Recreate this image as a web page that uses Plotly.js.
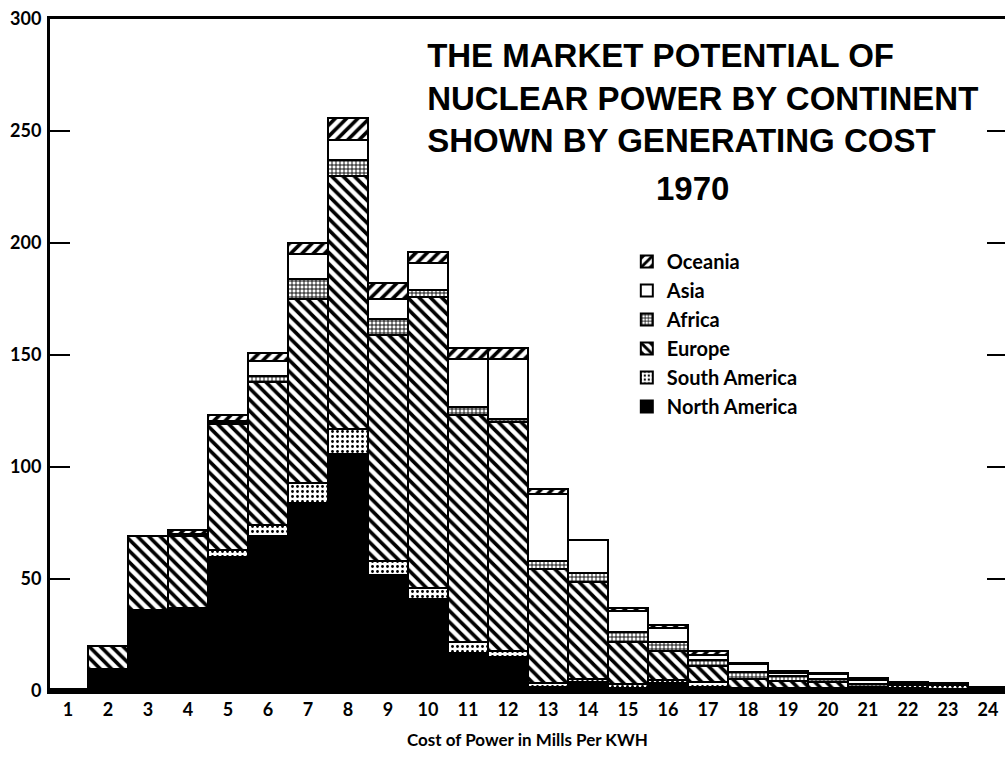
<!DOCTYPE html>
<html>
<head>
<meta charset="utf-8">
<script src="https://cdn.plot.ly/plotly-3.0.1.min.js"></script>
<style>html,body{margin:0;padding:0;background:#fff;overflow:hidden}</style>
</head>
<body>
<div id="chart" style="width:1005px;height:757px"></div>
<script>
// Cost of power (mills per KWH) categories
const costMills = [1,2,3,4,5,6,7,8,9,10,11,12,13,14,15,16,17,18,19,20,21,22,23,24];
const tickLabels = ['1','2','3','4','5','6','7','8','9','10','11','12','13','14','15','16','17','18','19','20','21','22','23','24'];
const yTicks = [0,50,100,150,200,250,300];

// Market potential by continent (stacked)
const northAmerica = [1,10,36,37,60,69,84,106,52,41,17,15,2,4,1.5,3.5,2,0.5,0.5,0.5,1,1.5,1,2];
const southAmerica = [0,0,0,0,3,5,9,11,6,5,5,3,1.5,1.5,1.5,1.5,2,1,1,1,0.5,1,1.5,0];
const europe       = [0,10,33,32,56,64,82,113,101,130,101,102,51,43,19,13,7,4,3,2.5,0.5,0,0.5,0];
const africa       = [0,0,0,1,0.5,2.5,9,7,7,3,4,1.5,3.5,4,4.5,4,3,3,2,1.5,1,0,0,0];
const asia         = [0,0,0,0,1,7,11,9,9,12,21,26.5,30,15,9,6,2,3.5,1.5,2,2,1,0,0];
const oceania      = [0,0,0,2,2.5,3.5,5,10,7,5,5,5,2,0,1.5,1.5,2,0.5,1,0.7,1,0.5,0.7,0];

const seriesNames = ['North America','South America','Europe','Africa','Asia','Oceania'];
const seriesValues = [northAmerica, southAmerica, europe, africa, asia, oceania];

const styles = {
  'North America': {color:'#000000'},
  'South America': {color:'#ffffff', pattern:{shape:'.', fgcolor:'#000', bgcolor:'#fff', size:5, solidity:0.25}},
  'Europe':        {color:'#ffffff', pattern:{shape:'\\', fgcolor:'#000', bgcolor:'#fff', size:8, solidity:0.45}},
  'Africa':        {color:'#ffffff', pattern:{shape:'+', fgcolor:'#000', bgcolor:'#fff', size:4, solidity:0.4}},
  'Asia':          {color:'#ffffff'},
  'Oceania':       {color:'#ffffff', pattern:{shape:'/', fgcolor:'#000', bgcolor:'#fff', size:8, solidity:0.45}}
};

const traces = seriesNames.map((name, i) => {
  const st = styles[name];
  const marker = {color: st.color, line:{color:'#000', width:2}};
  if (st.pattern) marker.pattern = st.pattern;
  return {type:'bar', name:name, x:costMills, y:seriesValues[i], marker:marker,
          width:1, hoverinfo:'x+y+name'};
});
// helper empty trace so the right-hand tick axis is drawn
traces.push({type:'scatter', x:[], y:[], yaxis:'y2', showlegend:false, hoverinfo:'skip'});

const tickFont = {family:'Lato, "DejaVu Sans", sans-serif', size:18, color:'#000', weight:'bold'};

const layout = {
  width:1005, height:757,
  margin:{l:50, r:0, t:19, b:66},
  paper_bgcolor:'#fff', plot_bgcolor:'#fff',
  barmode:'stack', bargap:0,
  showlegend:true,
  title:{
    text:'THE MARKET POTENTIAL OF<br>NUCLEAR POWER BY CONTINENT<br>SHOWN BY GENERATING COST',
    font:{family:'"Liberation Sans", Arial, sans-serif', size:33, color:'#000', weight:'bold'},
    xref:'container', yref:'container', x:0.425, xanchor:'left', y:0.912, yanchor:'top'
  },
  annotations:[{
    text:'1970', xref:'paper', yref:'paper', x:0.673, y:0.748, xanchor:'center', yanchor:'middle',
    showarrow:false, font:{family:'"Liberation Sans", Arial, sans-serif', size:33, color:'#000', weight:'bold'}
  }],
  legend:{
    x:0.604, y:0.668, xanchor:'left', yanchor:'top', traceorder:'reversed',
    bgcolor:'rgba(0,0,0,0)', borderwidth:0,
    font:{family:'Lato, "DejaVu Sans", sans-serif', size:20, color:'#000', weight:'bold'}
  },
  xaxis:{
    range:[0.55, 24.425], tickmode:'array', tickvals:costMills, ticktext:tickLabels,
    ticks:'', showgrid:false, zeroline:false,
    showline:true, linecolor:'#000', linewidth:3, mirror:true,
    tickfont:tickFont,
    title:{text:'Cost of Power in Mills Per KWH', standoff:16,
           font:{family:'Lato, "DejaVu Sans", sans-serif', size:17, color:'#000', weight:'bold'}}
  },
  yaxis:{
    range:[0,300], tickmode:'array', tickvals:yTicks,
    ticks:'inside', ticklen:20, tickwidth:2, tickcolor:'#000',
    showgrid:false, zeroline:false, showline:true, linecolor:'#000', linewidth:3,
    tickfont:tickFont, ticklabelstandoff:2
  },
  yaxis2:{
    overlaying:'y', side:'right', range:[0,300], tickmode:'array', tickvals:[50,100,150,200,250],
    ticks:'inside', ticklen:18, tickwidth:2, tickcolor:'#000',
    showticklabels:false, showgrid:false, zeroline:false, showline:false
  }
};

Plotly.newPlot('chart', traces, layout, {displayModeBar:false, staticPlot:true});
</script>
</body>
</html>
